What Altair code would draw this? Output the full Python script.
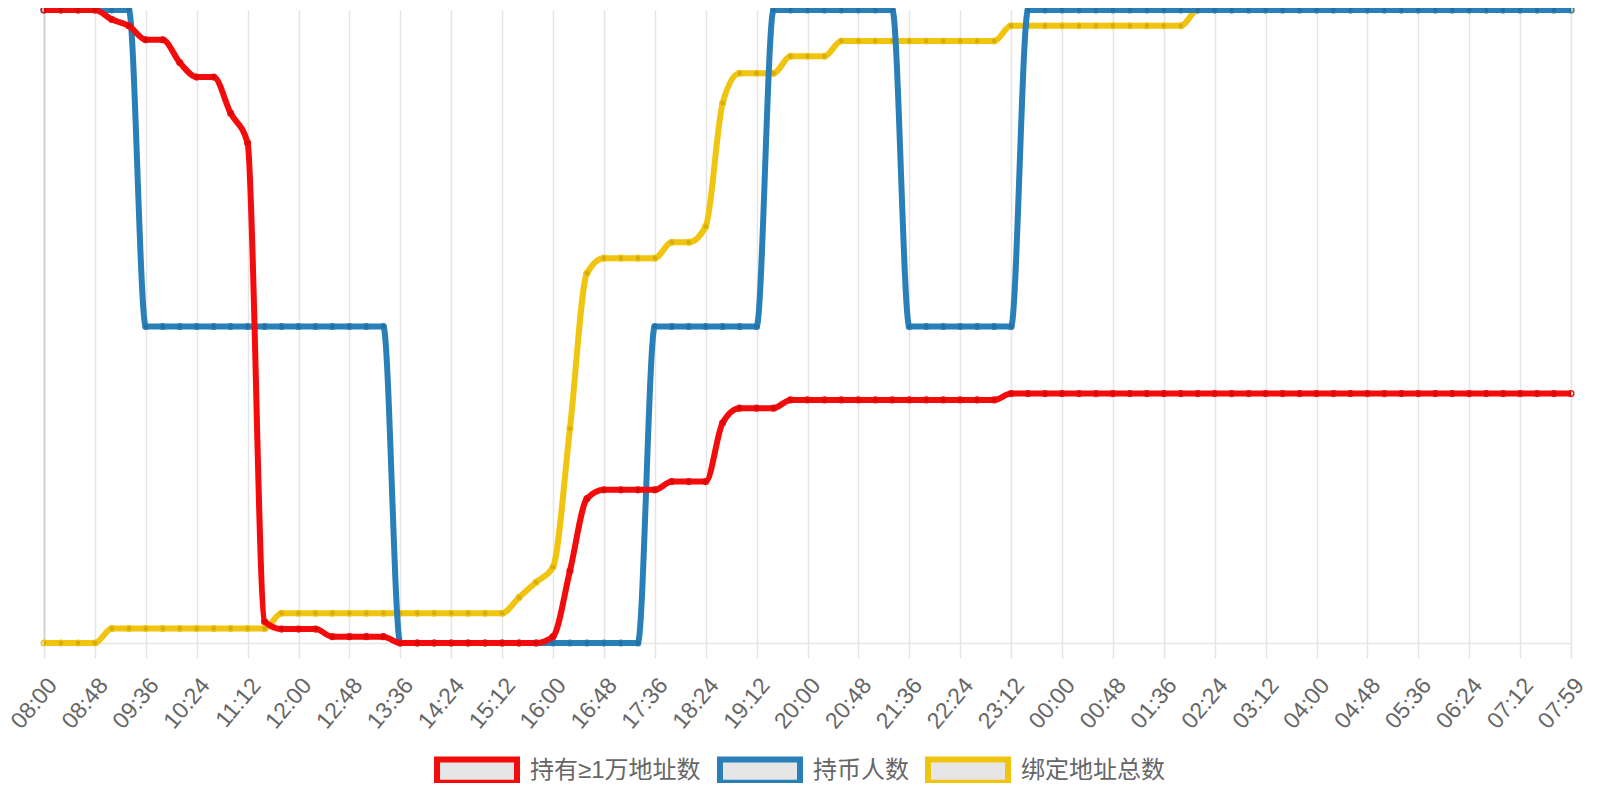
import altair as alt
import pandas as pd

times = [
    "08:00", "08:16", "08:32", "08:48", "09:04", "09:20", "09:36", "09:52", "10:08", "10:24",
    "10:40", "10:56", "11:12", "11:28", "11:44", "12:00", "12:16", "12:32", "12:48", "13:04",
    "13:20", "13:36", "13:52", "14:08", "14:24", "14:40", "14:56", "15:12", "15:28", "15:44",
    "16:00", "16:16", "16:32", "16:48", "17:04", "17:20", "17:36", "17:52", "18:08", "18:24",
    "18:40", "18:56", "19:12", "19:28", "19:44", "20:00", "20:16", "20:32", "20:48", "21:04",
    "21:20", "21:36", "21:52", "22:08", "22:24", "22:40", "22:56", "23:12", "23:28", "23:44",
    "00:00", "00:16", "00:32", "00:48", "01:04", "01:20", "01:36", "01:52", "02:08", "02:24",
    "02:40", "02:56", "03:12", "03:28", "03:44", "04:00", "04:16", "04:32", "04:48", "05:04",
    "05:20", "05:36", "05:52", "06:08", "06:24", "06:40", "06:56", "07:12", "07:28", "07:44",
    "07:59",
]

tick_labels = [
    "08:00", "08:48", "09:36", "10:24", "11:12", "12:00", "12:48", "13:36", "14:24", "15:12",
    "16:00", "16:48", "17:36", "18:24", "19:12", "20:00", "20:48", "21:36", "22:24", "23:12",
    "00:00", "00:48", "01:36", "02:24", "03:12", "04:00", "04:48", "05:36", "06:24", "07:12",
    "07:59",
]

series_names = ["持有≥1万地址数", "持币人数", "绑定地址总数"]
series_colors = ["#f40b0b", "#2980b9", "#f1c40f"]

# values, as percent of each series' own range (no y axis is shown)
holders_10k = [
    100, 100, 100, 100, 98.5, 97.5, 95.3, 95.3, 91.7, 89.4,
    89.4, 83.7, 79.0, 3.4, 2.2, 2.2, 2.2, 1.0, 1.0, 1.0,
    1.0, 0, 0, 0, 0, 0, 0, 0, 0, 0,
    1.0, 11.4, 22.8, 24.2, 24.2, 24.2, 24.2, 25.5, 25.5, 25.5,
    34.8, 37.1, 37.1, 37.1, 38.4, 38.4, 38.4, 38.4, 38.4, 38.4,
    38.4, 38.4, 38.4, 38.4, 38.4, 38.4, 38.4, 39.4, 39.4, 39.4,
    39.4, 39.4, 39.4, 39.4, 39.4, 39.4, 39.4, 39.4, 39.4, 39.4,
    39.4, 39.4, 39.4, 39.4, 39.4, 39.4, 39.4, 39.4, 39.4, 39.4,
    39.4, 39.4, 39.4, 39.4, 39.4, 39.4, 39.4, 39.4, 39.4, 39.4,
    39.4,
]

holders = [
    100, 100, 100, 100, 100, 100, 50, 50, 50, 50,
    50, 50, 50, 50, 50, 50, 50, 50, 50, 50,
    50, 0, 0, 0, 0, 0, 0, 0, 0, 0,
    0, 0, 0, 0, 0, 0, 50, 50, 50, 50,
    50, 50, 50, 100, 100, 100, 100, 100, 100, 100,
    100, 50, 50, 50, 50, 50, 50, 50, 100, 100,
    100, 100, 100, 100, 100, 100, 100, 100, 100, 100,
    100, 100, 100, 100, 100, 100, 100, 100, 100, 100,
    100, 100, 100, 100, 100, 100, 100, 100, 100, 100,
    100,
]

bound_addresses = [
    0, 0, 0, 0, 2.3, 2.3, 2.3, 2.3, 2.3, 2.3,
    2.3, 2.3, 2.3, 2.3, 4.7, 4.7, 4.7, 4.7, 4.7, 4.7,
    4.7, 4.7, 4.7, 4.7, 4.7, 4.7, 4.7, 4.7, 7.2, 9.6,
    12.0, 33.9, 58.4, 60.8, 60.8, 60.8, 60.8, 63.3, 63.3, 65.8,
    85.3, 90.0, 90.0, 90.0, 92.7, 92.7, 92.7, 95.1, 95.1, 95.1,
    95.1, 95.1, 95.1, 95.1, 95.1, 95.1, 95.1, 97.5, 97.5, 97.5,
    97.5, 97.5, 97.5, 97.5, 97.5, 97.5, 97.5, 97.5, 100, 100,
    100, 100, 100, 100, 100, 100, 100, 100, 100, 100,
    100, 100, 100, 100, 100, 100, 100, 100, 100, 100,
    100,
]

series_values = [holders_10k, holders, bound_addresses]

rows = []
for name, vals in zip(series_names, series_values):
    for t, v in zip(times, vals):
        rows.append({"t": t, "s": name, "v": v})
df = pd.DataFrame(rows)

FONT = "Liberation Sans, Noto Sans CJK SC, sans-serif"

x_enc = alt.X(
    "t:O",
    sort=times,
    scale=alt.Scale(padding=0),
    title=None,
    axis=alt.Axis(
        values=tick_labels,
        labelAngle=-50,
        labelAlign="right",
        labelBaseline="top",
        labelFontSize=23,
        labelFont=FONT,
        labelColor="#666666",
        labelPadding=16,
        grid=True,
        gridColor="#e5e5e5",
        gridWidth=1.5,
        tickColor="#e5e5e5",
        tickWidth=1.5,
        tickSize=15,
        domainColor="#e5e5e5",
        domainWidth=1.5,
    ),
)
y_enc = alt.Y(
    "v:Q",
    scale=alt.Scale(domain=[0, 100], nice=False, zero=False),
    title=None,
    axis=alt.Axis(labels=False, ticks=False, grid=False, domain=True,
                  domainColor="#cccccc", domainWidth=1.5),
)
color_enc = alt.Color(
    "s:N",
    scale=alt.Scale(domain=series_names, range=series_colors),
    sort=series_names,
    legend=alt.Legend(
        title=None,
        orient="none",
        direction="horizontal",
        legendX=390,
        legendY=718,
        symbolType="M-1,-0.29H1V0.29H-1Z",
        symbolSize=6400,
        symbolStrokeWidth=6,
        symbolFillColor="#e6e6e6",
        symbolOpacity=1,
        labelFontSize=24,
        labelFont=FONT,
        labelColor="#666666",
        labelLimit=500,
        labelOffset=10,
        columnPadding=7,
        padding=0,
    ),
)
stroke_enc = alt.Stroke(
    "s:N",
    scale=alt.Scale(domain=series_names, range=series_colors),
    legend=None,
)

base = alt.Chart(df)
layers = []
for name in reversed(series_names):
    sub = base.transform_filter(alt.datum.s == name)
    line = sub.mark_line(interpolate="monotone", strokeWidth=6).encode(
        x=x_enc, y=y_enc, color=color_enc
    )
    pts = sub.mark_point(
        shape="circle", filled=False, fill="#000000", fillOpacity=0.12,
        size=34, strokeWidth=1.3, opacity=1,
    ).encode(x=x_enc, y=y_enc, stroke=stroke_enc)
    layers += [line, pts]

chart = alt.layer(*layers).properties(
    width=1527,
    height=633,
    autosize=alt.AutoSizeParams(type="none"),
    padding={"left": 36, "top": 2, "right": 21, "bottom": 140},
).configure_view(stroke=None)

chart.save("out.html", embed_options={"renderer": "svg", "actions": False})
